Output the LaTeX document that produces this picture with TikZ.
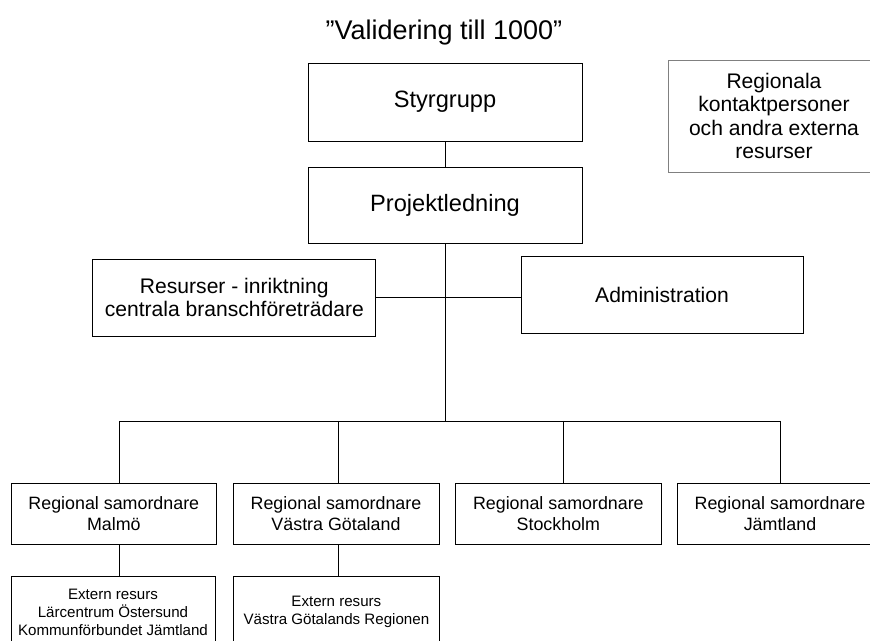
\documentclass[tikz,border=0pt]{standalone}
\usepackage{fontspec}
\setmainfont{Liberation Sans}
\begin{document}
\begin{tikzpicture}
[
orgbox/.style={draw=black, line width=0.65pt, inner sep=2pt, align=center},
bigtext/.style={font=\fontsize{16.8}{19}\selectfont},
midtext/.style={font=\fontsize{15}{16.8}\selectfont},
smalltext/.style={font=\fontsize{12.7}{14.9}\selectfont},
tinytext/.style={font=\fontsize{10.75}{12.8}\selectfont},
link/.style={draw=black, line width=0.65pt}
]
\useasboundingbox (0,0) rectangle (21.75,16.025);
%Nodes
\node[font=\fontsize{19.2}{22}\selectfont]		(title) at(11.1,15.2) {”Validering till 1000”};
\node[orgbox, bigtext, minimum width=6.85cm, minimum height=1.95cm]		(styr) at(11.125,13.475) {Styrgrupp};
\node[orgbox, bigtext, minimum width=6.85cm, minimum height=1.9cm]		(proj) at(11.125,10.9) {Projektledning};
\node[orgbox, midtext, minimum width=7.08cm, minimum height=1.925cm]		(res) at(5.858,8.5875) {Resurser - inriktning\\centrala branschföreträdare};
\node[orgbox, midtext, minimum width=7.05cm, minimum height=1.93cm]		(adm) at(16.55,8.6425) {Administration};
\node[orgbox, midtext, draw=black!50, minimum width=5.3cm, minimum height=2.8cm]		(ext) at(19.35,13.125) {Regionala\\kontaktpersoner\\och andra externa\\resurser};

\node[orgbox, smalltext, minimum width=5.14cm, minimum height=1.51cm]		(malmo) at(2.846,3.179) {Regional samordnare\\Malmö};
\node[orgbox, smalltext, minimum width=5.15cm, minimum height=1.51cm]		(vastra) at(8.4,3.179) {Regional samordnare\\Västra Götaland};
\node[orgbox, smalltext, minimum width=5.13cm, minimum height=1.51cm]		(sthlm) at(13.959,3.179) {Regional samordnare\\Stockholm};
\node[orgbox, smalltext, minimum width=5.14cm, minimum height=1.51cm]		(jamt) at(19.5,3.179) {Regional samordnare\\Jämtland};

\node[orgbox, tinytext, minimum width=5.1cm, minimum height=1.8cm]		(malmosub) at(2.825,0.725) {Extern resurs\\Lärcentrum Östersund\\Kommunförbundet Jämtland};
\node[orgbox, tinytext, minimum width=5.17cm, minimum height=1.8cm]		(vastrasub) at(8.409,0.725) {Extern resurs\\Västra Götalands Regionen};

%Bus
\coordinate (trunk) at(11.125,5.5);
\coordinate (b1) at(2.99,5.5);
\coordinate (b2) at(8.45,5.5);
\coordinate (b3) at(14.08,5.5);
\coordinate (b4) at(19.5,5.5);

%Lines
\draw[link] (styr.south) -- (proj.north);
\draw[link] (proj.south) -- (trunk);
\draw[link] (res.east) -- (res.east -| adm.west);
\draw[link] (b1) -- (b4);
\draw[link] (b1) -- (b1 |- malmo.north);
\draw[link] (b2) -- (b2 |- vastra.north);
\draw[link] (b3) -- (b3 |- sthlm.north);
\draw[link] (b4) -- (b4 |- jamt.north);
\draw[link] (malmo.south -| b1) -- (malmosub.north -| b1);
\draw[link] (vastra.south -| b2) -- (vastrasub.north -| b2);

\end{tikzpicture}
\end{document}
